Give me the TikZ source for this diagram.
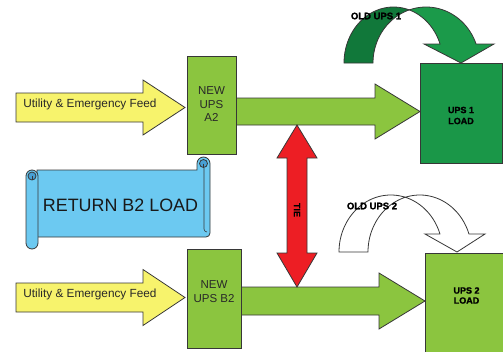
\documentclass[tikz,border=0pt]{standalone}
\usepackage{fontspec}
\setmainfont{Liberation Sans}
\newfontfamily\heavyfont{Liberation Sans}[BoldFeatures={FakeBold=1.6}]

\definecolor{edgegray}{RGB}{55,55,55}
\definecolor{textgray}{RGB}{40,40,40}
\definecolor{feedyellow}{RGB}{247,243,108}
\definecolor{upsgreen}{RGB}{139,197,63}
\definecolor{loadgreen}{RGB}{26,151,72}
\definecolor{olddark}{RGB}{17,120,58}
\definecolor{oldlight}{RGB}{27,154,74}
\definecolor{tiered}{RGB}{237,30,36}
\definecolor{scrollblue}{RGB}{108,201,241}
\definecolor{curlblue}{RGB}{72,160,212}

% block arrow pointing right: style, tail x, head x, tip x, centre y, half body, half head
\newcommand\rightblock[7]{%
  \draw[#1] (#2,#5-#6) -- (#3,#5-#6) -- (#3,#5-#7) -- (#4,#5)
    -- (#3,#5+#7) -- (#3,#5+#6) -- (#2,#5+#6) -- cycle;}

\begin{document}
\begin{tikzpicture}[x=1pt,y=-1pt,
  outline/.style={draw=edgegray,line width=0.8pt,line join=miter},
  feedarrow/.style={outline,fill=feedyellow},
  flowarrow/.style={outline,fill=upsgreen},
  upsbox/.style={outline,fill=upsgreen,inner sep=0pt,anchor=north west},
  loadbox/.style={outline,inner sep=0pt,anchor=north west},
  plain/.style={text=textgray,inner sep=0pt,align=center},
  heavy/.style={text=black,inner sep=0pt,align=center,font=\heavyfont\bfseries\fontsize{9}{11}\selectfont},
  oldlabel/.style={text=black,inner sep=0pt,font=\heavyfont\bfseries\fontsize{9.5}{11}\selectfont},
  feedlabel/.style={text=textgray,inner sep=0pt,anchor=base,font=\fontsize{11.8}{14}\selectfont}]

\useasboundingbox (0,0) rectangle (503,351);
\clip (0,0) rectangle (503,351);

% feed arrows
\rightblock{feedarrow}{16}{143}{185}{107.5}{14.5}{27.5}
\rightblock{feedarrow}{16}{143}{185}{297.5}{14.5}{28}

% output arrows towards the loads
\rightblock{flowarrow}{236}{375}{420}{111.5}{13.5}{27.5}
\rightblock{flowarrow}{241}{379}{425}{301}{14}{28}

% UPS boxes
\node[upsbox,minimum width=49pt,minimum height=98pt] (a2) at (187,56) {};
\node[upsbox,minimum width=54pt,minimum height=99pt] (b2) at (187,249) {};
\node[loadbox,fill=loadgreen,minimum width=82pt,minimum height=100pt] (load1) at (420,63) {};
\node[loadbox,fill=upsgreen,minimum width=90pt,minimum height=110pt] (load2) at (425,253) {};

% tie arrow between the two outputs
\draw[outline,fill=tiered] (297,125) -- (317,158) -- (307,158) -- (307,253) -- (317,253)
  -- (297,287) -- (277,253) -- (287,253) -- (287,158) -- (277,158) -- cycle;

% old UPS 1: curved arrow, back band then front band with head
\filldraw[outline,fill=olddark]
  plot[domain=180:71.5,samples=40,variable=\t] ({393.5+49.5*cos(\t)},{63-56*sin(\t)})
  -- plot[domain=108.5:180,samples=40,variable=\t] ({426.1+53.1*cos(\t)},{63-56*sin(\t)})
  -- cycle;
\filldraw[outline,fill=oldlight]
  plot[domain=108.5:19.8,samples=40,variable=\t] ({426.1+53.1*cos(\t)},{63-56*sin(\t)})
  -- (494,44) -- (461,63) -- (424,44)
  -- plot[domain=19.8:71.5,samples=40,variable=\t] ({393.5+49.5*cos(\t)},{63-56*sin(\t)})
  -- cycle;

% old UPS 2: same curved arrow, unfilled
\filldraw[outline,fill=white]
  plot[domain=180:73.75,samples=40,variable=\t] ({390.8+51.8*cos(\t)},{252-57*sin(\t)})
  -- plot[domain=106.25:180,samples=40,variable=\t] ({419.8+51.8*cos(\t)},{252-57*sin(\t)})
  -- cycle;
\filldraw[outline,fill=white]
  plot[domain=106.25:18.41,samples=40,variable=\t] ({419.8+51.8*cos(\t)},{252-57*sin(\t)})
  -- (485,234) -- (457,252) -- (425,234)
  -- plot[domain=18.41:73.75,samples=40,variable=\t] ({390.8+51.8*cos(\t)},{252-57*sin(\t)})
  -- cycle;

% scroll banner
\filldraw[outline,fill=scrollblue] (37,170) -- (197,170) -- (197,163.5)
  arc[start angle=180,end angle=360,radius=6.5] -- (210,233)
  arc[start angle=0,end angle=90,radius=4] -- (37,237) -- cycle;
\draw[outline,line width=0.6pt] (204,168) -- (204,229) arc[start angle=180,end angle=90,radius=3];
\filldraw[outline,fill=curlblue] (203.5,163.5) circle[radius=4];
\draw[outline,line width=0.6pt] (203.5,163.5) -- (203.5,167.5);
\filldraw[outline,fill=scrollblue] (26,176) -- (26,243)
  arc[start angle=180,end angle=0,radius=6] -- (38,176)
  arc[start angle=0,end angle=-180,radius=6] -- cycle;
\filldraw[outline,fill=curlblue] (32,176) circle[radius=4];
\draw[outline,line width=0.6pt] (32,176) -- (32,180);

% labels
\node[feedlabel] (feedA) at (90,107.3) {Utility \& Emergency Feed};
\node[feedlabel] (feedB) at (90,297) {Utility \& Emergency Feed};
\node[plain,font=\fontsize{11.5}{13.5}\selectfont] (a2txt) at (211.5,104.5) {NEW\\UPS\\A2};
\node[plain,font=\fontsize{11.5}{13.5}\selectfont] (b2txt) at (214,291.5) {NEW\\UPS B2};
\node[heavy] (load1txt) at (461,115.5) {UPS 1\\LOAD};
\node[heavy,font=\heavyfont\bfseries\fontsize{9}{10}\selectfont] (load2txt) at (466.5,295.5) {UPS 2\\LOAD};
\node[oldlabel] (old1) at (376,16) {OLD UPS 1};
\node[oldlabel] (old2) at (372,206) {OLD UPS 2};
\node[heavy,rotate=-90] (tie) at (297,210) {TIE};
\node[anchor=base,inner sep=0pt,text=black!90,font=\fontsize{17.9}{20}\selectfont] (ret) at (120.5,211.7) {RETURN B2 LOAD};
\end{tikzpicture}
\end{document}
